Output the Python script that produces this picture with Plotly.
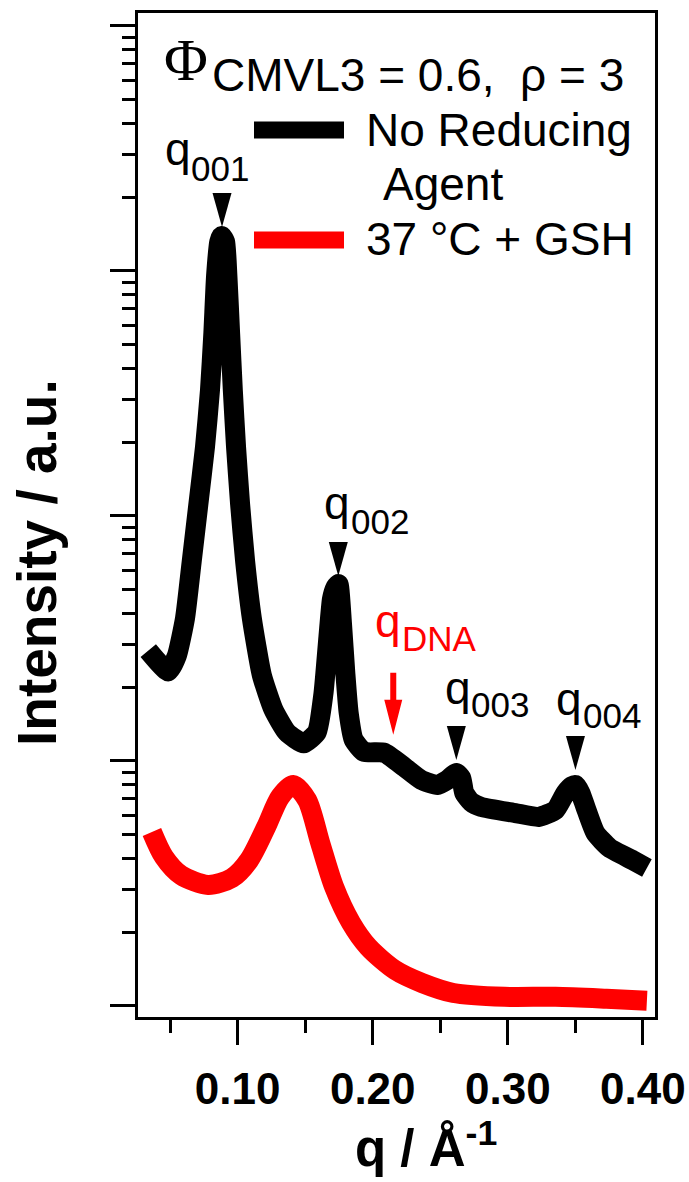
import plotly.graph_objects as go

# ---------------- data ----------------
q_black = [0.0338, 0.0486, 0.0549, 0.0610, 0.0660, 0.0709, 0.0758, 0.0795, 0.0820, 0.0840,
           0.0864, 0.0882, 0.0907, 0.0924, 0.0944, 0.0964, 0.0988, 0.1018, 0.1055, 0.1105,
           0.1179, 0.1265, 0.1364, 0.1487, 0.1586, 0.1635, 0.1672, 0.1698, 0.1722, 0.1746,
           0.1772, 0.1797, 0.1822, 0.1859, 0.1934, 0.2085, 0.2233, 0.2359, 0.2478, 0.2552,
           0.2619, 0.2655, 0.2678, 0.2729, 0.2804, 0.3056, 0.3227, 0.3353, 0.3427, 0.3476,
           0.3501, 0.3538, 0.3575, 0.3649, 0.3753, 0.3924, 0.4030]
I_black = [28.2, 23.2, 26.8, 38.2, 65.4, 111.7, 191.1, 326.5, 557.8, 954,
           1316, 1388, 1316, 954, 557.8, 326.5, 191.1, 111.7, 65.4, 38.2,
           22.4, 16.2, 13.1, 11.8, 13.1, 18.8, 32.1, 45.8, 50.8, 52.8,
           36.6, 22.9, 15.7, 12.2, 10.9, 10.8, 9.45, 8.37, 7.98, 8.37,
           8.93, 8.52, 7.40, 6.80, 6.49, 6.13, 5.91, 6.31, 7.40, 7.90,
           7.98, 7.40, 6.49, 5.08, 4.42, 3.94, 3.66]

q_red = [0.0365, 0.0454, 0.0580, 0.0781, 0.0958, 0.1085, 0.1211, 0.1314, 0.1411, 0.1514,
         0.1611, 0.1714, 0.1840, 0.1967, 0.2167, 0.2367, 0.2597, 0.2975, 0.3353, 0.3731,
         0.4030]
I_red = [5.13, 4.06, 3.42, 3.12, 3.33, 3.94, 5.38, 7.13, 7.98, 6.93,
         4.63, 3.06, 2.18, 1.74, 1.40, 1.24, 1.13, 1.09, 1.09, 1.07,
         1.05]

series_names = ["No Reducing", "37 °C + GSH"]

# Bragg peak markers (position, intensity level of marker tip)
peak_labels = ["001", "002", "003", "004"]
peak_q = [0.0884, 0.1745, 0.2619, 0.3501]
peak_tip_I = [1513, 56.9, 10.1, 9.19]

dna_label = "DNA"
dna_q = 0.2152
dna_tip_I = 12.8

x_ticks = [0.10, 0.20, 0.30, 0.40]

# ---------------- layout geometry (pixels) ----------------
W, H = 689, 1182
L, R, T, B = 138, 655, 13, 1017


def px(x):
    return (x - L) / (R - L)


def py(y):
    return (B - y) / (B - T)


def mid(baseline, size, k=0.3465):
    # vertical centre of a single-line annotation box from its baseline
    return baseline - k * size


FONT = "Liberation Sans"
RED = "#ff0000"

fig = go.Figure()
fig.add_trace(go.Scatter(x=q_black, y=I_black, mode="lines", name=series_names[0],
                         line=dict(color="black", width=20, shape="spline", smoothing=0.5),
                         showlegend=False))
fig.add_trace(go.Scatter(x=q_red, y=I_red, mode="lines", name=series_names[1],
                         line=dict(color=RED, width=20, shape="spline", smoothing=0.8),
                         showlegend=False))

shapes = []
annotations = []

# peak triangles
for q, I in zip(peak_q, peak_tip_I):
    shapes.append(dict(type="path", xref="x", yref="y", xsizemode="pixel", ysizemode="pixel",
                       xanchor=q, yanchor=I, path="M 0,0 L -9.5,34 L 9.5,34 Z",
                       fillcolor="black", line=dict(width=0)))

# red DNA arrow
shapes.append(dict(type="path", xref="x", yref="y", xsizemode="pixel", ysizemode="pixel",
                   xanchor=dna_q, yanchor=dna_tip_I,
                   path="M 0,0 L -9,35 L -3,35 L -3,62 L 3,62 L 3,35 L 9,35 Z",
                   fillcolor=RED, line=dict(width=0)))


def qlabel(sub, q_left, q_base, s_left, s_base, color):
    annotations.append(dict(xref="paper", yref="paper", x=px(q_left), y=py(mid(q_base, 46)),
                            xanchor="left", yanchor="middle", showarrow=False, text="q",
                            font=dict(family=FONT, size=46, color=color)))
    annotations.append(dict(xref="paper", yref="paper", x=px(s_left), y=py(mid(s_base, 35)),
                            xanchor="left", yanchor="middle", showarrow=False, text=sub,
                            font=dict(family=FONT, size=35, color=color)))


label_geom = [(163, 165, 189, 181), (322, 519, 349, 534), (443, 704, 469, 717), (554, 715, 581, 728)]
for lab, g in zip(peak_labels, label_geom):
    qlabel(lab, *g, "black")
qlabel(dna_label, 373, 637, 400, 651, RED)

# title line
annotations.append(dict(xref="paper", yref="paper", x=px(162), y=py(mid(80, 60, 0.3375)),
                        xanchor="left", yanchor="middle", showarrow=False,
                        text="Φ", font=dict(family="Liberation Serif", size=60, color="black")))
annotations.append(dict(xref="paper", yref="paper", x=px(210), y=py(mid(91, 46)),
                        xanchor="left", yanchor="middle", showarrow=False,
                        text="CMVL3 = 0.6,  ρ = 3", font=dict(family=FONT, size=46, color="black")))

# legend
shapes.append(dict(type="line", xref="paper", yref="paper", x0=px(254), x1=px(344),
                   y0=py(130), y1=py(130), line=dict(color="black", width=17)))
shapes.append(dict(type="line", xref="paper", yref="paper", x0=px(254), x1=px(344),
                   y0=py(240), y1=py(240), line=dict(color=RED, width=17)))
annotations.append(dict(xref="paper", yref="paper", x=px(364), y=py(mid(146, 46)),
                        xanchor="left", yanchor="middle", showarrow=False,
                        text=series_names[0], font=dict(family=FONT, size=46, color="black")))
annotations.append(dict(xref="paper", yref="paper", x=px(381), y=py(mid(200, 46)),
                        xanchor="left", yanchor="middle", showarrow=False,
                        text="Agent", font=dict(family=FONT, size=46, color="black")))
annotations.append(dict(xref="paper", yref="paper", x=px(364), y=py(mid(255, 46)),
                        xanchor="left", yanchor="middle", showarrow=False,
                        text=series_names[1], font=dict(family=FONT, size=46, color="black")))

# axis titles
annotations.append(dict(xref="paper", yref="paper", x=px(426), y=py(1145),
                        xanchor="center", yanchor="middle", showarrow=False,
                        text="q / Å<sup>-1</sup>",
                        font=dict(family=FONT, size=51, color="black", weight="bold")))
annotations.append(dict(xref="paper", yref="paper", x=px(37), y=py(563),
                        xanchor="center", yanchor="middle", showarrow=False, textangle=-90,
                        text="Intensity / a.u.",
                        font=dict(family=FONT, size=55, color="black", weight="bold")))

fig.update_layout(
    width=W, height=H,
    margin=dict(l=L, r=W - R, t=T, b=H - B, pad=0, autoexpand=False),
    plot_bgcolor="white", paper_bgcolor="white",
    shapes=shapes, annotations=annotations,
    showlegend=False,
)
fig.update_xaxes(
    automargin=False,
    range=[0.0262, 0.409], tickmode="array", tickvals=x_ticks,
    ticktext=["%.2f" % v for v in x_ticks],
    ticks="outside", ticklen=25, tickwidth=3, tickcolor="black", ticklabelstandoff=6,
    showline=True, linewidth=3, linecolor="black", mirror=True,
    showgrid=False, zeroline=False,
    tickfont=dict(family=FONT, size=44, color="black", weight="bold"),
    minor=dict(tickmode="array", tickvals=[0.05, 0.15, 0.25, 0.35], ticks="outside",
               ticklen=13, tickwidth=3, tickcolor="black", showgrid=False),
)
fig.update_yaxes(
    automargin=False,
    type="log", range=[-0.045, 4.053], dtick=1,
    ticks="outside", ticklen=25, tickwidth=3, tickcolor="black",
    showticklabels=False,
    showline=True, linewidth=3, linecolor="black", mirror=True,
    showgrid=False, zeroline=False,
    minor=dict(dtick="D1", ticks="outside", ticklen=13, tickwidth=3, tickcolor="black",
               showgrid=False),
)

fig.write_html("out.html")
